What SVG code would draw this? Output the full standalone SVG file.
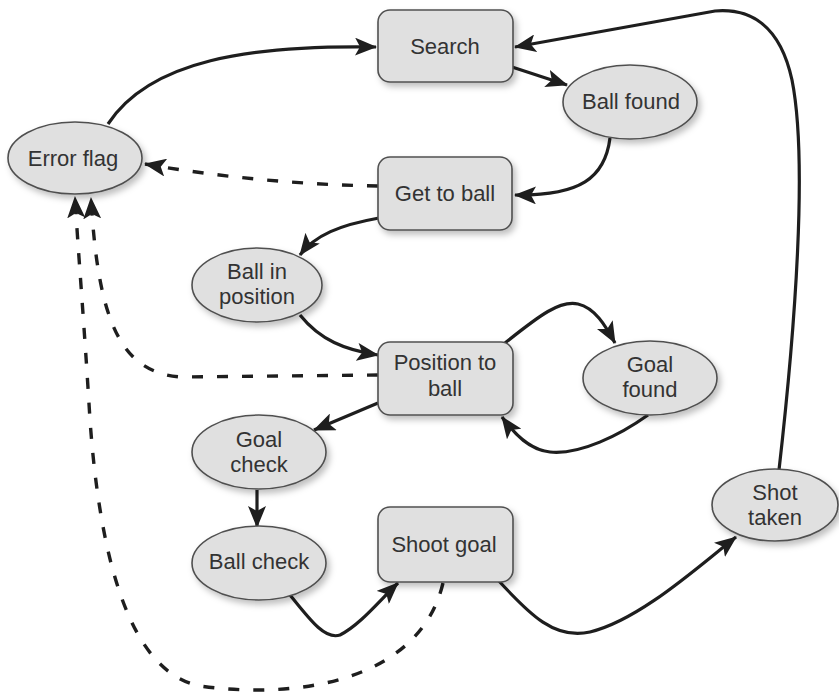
<svg xmlns="http://www.w3.org/2000/svg" width="839" height="696" viewBox="0 0 839 696">
<style>
.n{fill:#e0e0e0;stroke:#505050;stroke-width:1.6;filter:url(#sh)}
.t{font-family:"Liberation Sans",Arial,sans-serif;font-size:22px;fill:#333;text-anchor:middle}
.c{fill:none;stroke:#1e1e1e;stroke-width:3.2;marker-end:url(#ah)}
.d{fill:none;stroke:#1e1e1e;stroke-width:3.4;stroke-dasharray:11 14;marker-end:url(#ah)}
</style>
<defs>
<filter id="sh" x="-20%" y="-20%" width="150%" height="150%">
<feDropShadow dx="3" dy="4" stdDeviation="3" flood-color="#000" flood-opacity="0.25"/>
</filter>
<marker id="ah" markerUnits="userSpaceOnUse" markerWidth="22" markerHeight="18" viewBox="0 0 22 18" refX="21" refY="9" orient="auto">
<path d="M0,0 L22,9 L0,18 L5,9 Z" fill="#1e1e1e"/>
</marker>
</defs>
<rect width="839" height="696" fill="#fff"/>
<g id="connectors">
<path class="c" d="M108,124 C150,60 250,45 376,47"/>
<path class="c" d="M512,67 L567,85"/>
<path class="c" d="M779,470 C795,330 808,160 792,80 C780,25 750,8 715,11 L515,47"/>
<path class="c" d="M610,138 C605,178 580,196 515,195"/>
<path class="d" d="M378,186 Q260,184 145,164"/>
<path class="c" d="M379,218 C340,225 315,235 300,255"/>
<path class="c" d="M300,315 C320,340 345,350 378,355"/>
<path class="d" d="M378,375 L180,377 C120,372 98,320 91,198"/>
<path class="d" d="M443,583 C420,680 300,700 200,686 C130,672 100,560 90,420 C84,320 78,250 75,197"/>
<path class="c" d="M505,343 C540,315 560,300 578,304 C595,308 605,325 615,343"/>
<path class="c" d="M648,415 C620,435 580,455 550,452 C530,450 515,435 502,417"/>
<path class="c" d="M378,403 L314,430"/>
<path class="c" d="M257,490 L257,527"/>
<path class="c" d="M290,595 C310,620 325,640 340,635 C360,625 380,600 398,583"/>
<path class="c" d="M498,580 C530,615 555,640 590,632 C640,620 700,565 736,537"/>
</g>
<g id="search"><rect class="n" x="378" y="10" width="135" height="72" rx="12"/><text class="t" x="445" y="54">Search</text></g>
<g id="ball-found"><ellipse class="n" cx="630" cy="102" rx="67" ry="37"/><text class="t" x="631" y="109">Ball found</text></g>
<g id="error-flag"><ellipse class="n" cx="75" cy="158" rx="67" ry="36"/><text class="t" x="73" y="166">Error flag</text></g>
<g id="get-to-ball"><rect class="n" x="378" y="157" width="134" height="73" rx="12"/><text class="t" x="445" y="201">Get to ball</text></g>
<g id="ball-in-position"><ellipse class="n" cx="257" cy="285" rx="65" ry="37"/><text class="t" x="257" y="279">Ball in</text><text class="t" x="257" y="304">position</text></g>
<g id="position-to-ball"><rect class="n" x="378" y="342" width="135" height="73" rx="12"/><text class="t" x="445" y="370">Position to</text><text class="t" x="445" y="396">ball</text></g>
<g id="goal-found"><ellipse class="n" cx="650" cy="378" rx="67" ry="37"/><text class="t" x="650" y="372">Goal</text><text class="t" x="650" y="397">found</text></g>
<g id="goal-check"><ellipse class="n" cx="259" cy="452" rx="67" ry="37"/><text class="t" x="259" y="447">Goal</text><text class="t" x="259" y="472">check</text></g>
<g id="ball-check"><ellipse class="n" cx="259" cy="563" rx="67" ry="37"/><text class="t" x="259" y="569">Ball check</text></g>
<g id="shoot-goal"><rect class="n" x="378" y="507" width="135" height="75" rx="12"/><text class="t" x="444" y="552">Shoot goal</text></g>
<g id="shot-taken"><ellipse class="n" cx="775" cy="505" rx="63" ry="36"/><text class="t" x="775" y="500">Shot</text><text class="t" x="775" y="525">taken</text></g>
</svg>
